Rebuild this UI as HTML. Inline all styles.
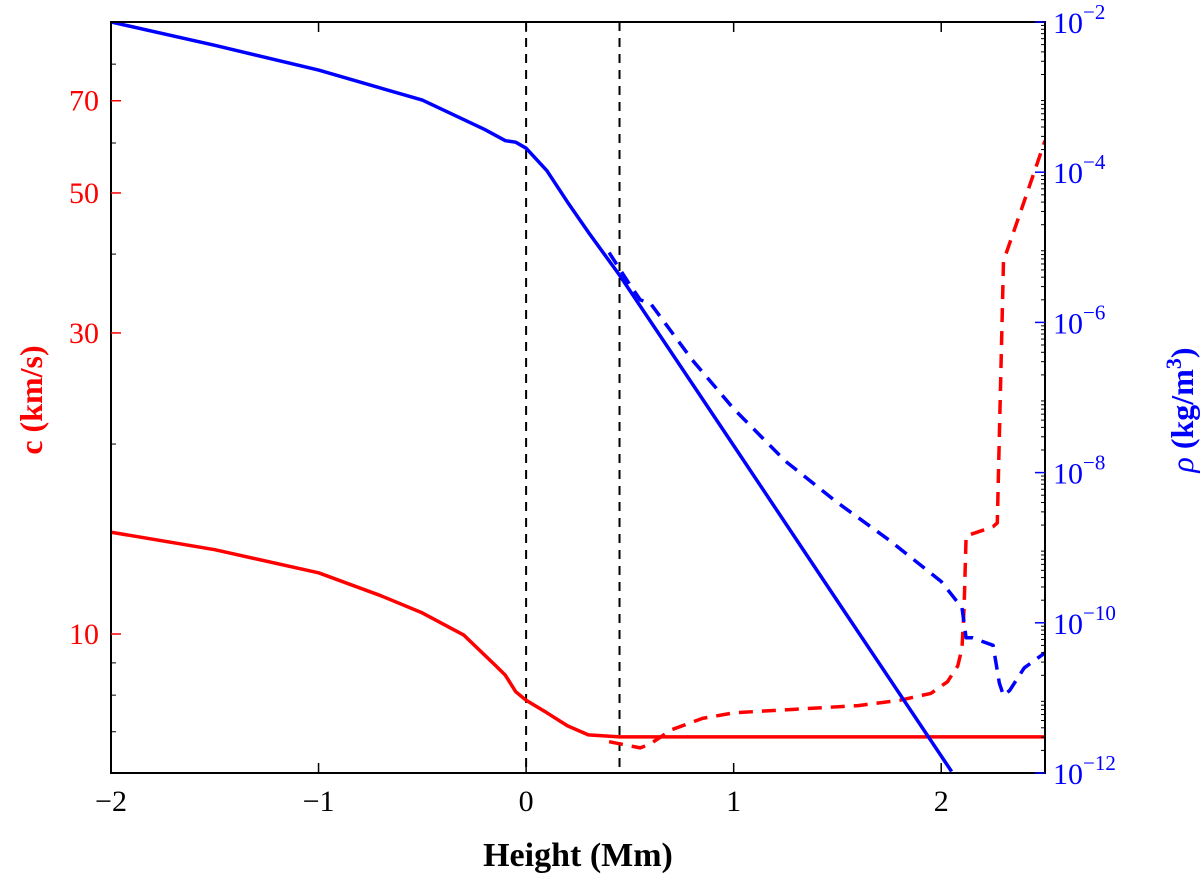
<!DOCTYPE html>
<html><head><meta charset="utf-8"><style>
body{margin:0;background:#fff;}
svg text{font-family:"Liberation Serif",serif;}
</style></head><body>
<svg id="chart" width="1200" height="880" xmlns="http://www.w3.org/2000/svg">
<g id="plot"></g>
</svg>
<script>
const heightsRedSolid=[-2,-1.5,-1,-0.7,-0.5,-0.3,-0.15,-0.1,-0.05,0,0.1,0.2,0.3,0.45,1,1.5,2,2.5];
const cRedSolid=[14.5,13.6,12.5,11.5,10.8,9.96,8.93,8.6,8.1,7.85,7.5,7.15,6.92,6.87,6.87,6.87,6.87,6.87];
const heightsRedDashed=[0.4,0.5,0.55,0.6,0.7,0.85,1.0,1.3,1.6,1.8,1.95,2.03,2.08,2.1,2.11,2.12,2.2,2.25,2.27,2.3,2.4,2.5];
const cRedDashed=[6.75,6.65,6.6,6.7,7.05,7.35,7.5,7.6,7.7,7.85,8.05,8.4,8.9,9.5,11.0,14.3,14.6,14.8,15.0,39,48.5,60.5];
const heightsBlueSolid=[-2,-1.5,-1,-0.5,-0.2,-0.1,-0.05,0,0.1,0.2,0.3,0.45,1,1.5,2.05];
const rhoLogBlueSolid=[-2,-2.31,-2.64,-3.04,-3.43,-3.58,-3.6,-3.68,-3.98,-4.4,-4.8,-5.37,-7.64,-9.71,-11.98];
const heightsBlueDashed=[0.4,0.5,0.55,0.6,0.8,1.0,1.25,1.5,1.75,2.0,2.1,2.12,2.15,2.25,2.28,2.3,2.33,2.4,2.5];
const rhoLogBlueDashed=[-5.07,-5.5,-5.7,-5.75,-6.5,-7.15,-7.85,-8.4,-8.9,-9.45,-9.8,-10.2,-10.2,-10.3,-10.8,-10.97,-10.9,-10.6,-10.4];
const xTicks=[-2,-1,0,1,2];
const cTicks=[10,30,50,70];
const cMinor=[7,8,9,20,40,60,80];
const rhoTicks=[-2,-4,-6,-8,-10,-12];
const vlines=[0,0.45];

const L=111,R=1045,T=22,B=773;
const X=v=>L+(v+2)/4.5*(R-L);
const YC=c=>634-(Math.log10(c)-1)*631;
const YR=p=>T+(-2-p)/10*(B-T);
const ns="http://www.w3.org/2000/svg";
const g=document.getElementById('plot');
function mk(t,a){const e=document.createElementNS(ns,t);for(const k in a)e.setAttribute(k,a[k]);g.appendChild(e);return e;}
function path(xs,ys,fx,fy,col,dash,name){
  const d=xs.map((x,i)=>(i?'L':'M')+fx(x).toFixed(1)+','+fy(ys[i]).toFixed(1)).join('');
  const p=mk('path',{d:d,fill:'none',stroke:col,'stroke-width':3.5,'stroke-linejoin':'round','clip-path':'url(#clip)'});
  if(dash)p.setAttribute('stroke-dasharray','14,9');
  
  
}
const defs=mk('defs',{});
defs.innerHTML='<clipPath id="clip"><rect x="111" y="22" width="934" height="751"/></clipPath>';
vlines.forEach(v=>{const l=mk('line',{x1:X(v),x2:X(v),y1:T,y2:B,stroke:'#000','stroke-width':2,'stroke-dasharray':'9,7'});

});
path(heightsRedSolid,cRedSolid,X,YC,'#f00',false,'sound-speed-solid');
path(heightsRedDashed,cRedDashed,X,YC,'#f00',true,'sound-speed-dashed');
path(heightsBlueSolid,rhoLogBlueSolid,X,YR,'#00f',false,'density-solid');
path(heightsBlueDashed,rhoLogBlueDashed,X,YR,'#00f',true,'density-dashed');
const fr=mk('rect',{x:L,y:T,width:R-L,height:B-T,fill:'none',stroke:'#000','stroke-width':2});


xTicks.forEach(v=>{const x=X(v);
 mk('line',{x1:x,x2:x,y1:B,y2:B-10,stroke:'#000','stroke-width':1.5});
 mk('line',{x1:x,x2:x,y1:T,y2:T+10,stroke:'#000','stroke-width':1.5});
 const t=mk('text',{x:x,y:B+38,'text-anchor':'middle','font-size':30});t.textContent=(v<0?'\u2212':'')+Math.abs(v);
 
 });
cTicks.forEach(c=>{const y=YC(c);
 mk('line',{x1:L,x2:L+10,y1:y,y2:y,stroke:'#f00','stroke-width':1.5});
 const t=mk('text',{x:L-12,y:y+10,'text-anchor':'end','font-size':30,fill:'#f00'});t.textContent=c;
 
 });
cMinor.forEach(c=>{const y=YC(c);mk('line',{x1:L,x2:L+5,y1:y,y2:y,stroke:'#000','stroke-width':1});});
for(let d=-12;d<-2;d++){for(let m=2;m<10;m++){const y=YR(d+Math.log10(m));mk('line',{x1:R,x2:R-4,y1:y,y2:y,stroke:'#000','stroke-width':1});}}
rhoTicks.forEach(p=>{const y=YR(p);
 mk('line',{x1:R,x2:R-10,y1:y,y2:y,stroke:'#00f','stroke-width':1.5});
 const t=mk('text',{x:R+8,y:y+11,'font-size':30,fill:'#00f'});
 t.innerHTML='10<tspan dy="-14" font-size="21">\u2212'+Math.abs(p)+'</tspan>';
 
 });
let t=mk('text',{x:578,y:866,'text-anchor':'middle','font-size':34,'font-weight':'bold'});t.textContent='Height (Mm)';

t=mk('text',{x:0,y:0,'text-anchor':'middle','font-size':32,'font-weight':'bold',fill:'#f00',transform:'translate(42,400) rotate(-90)'});t.textContent='c (km/s)';

t=mk('text',{x:0,y:0,'text-anchor':'middle','font-size':32,'font-weight':'bold',fill:'#00f',transform:'translate(1193,410) rotate(-90)'});
t.innerHTML='<tspan font-style="italic" font-weight="normal">ρ</tspan> (kg/m<tspan dy="-12" font-size="22">3</tspan><tspan dy="12">)</tspan>';

</script>
</body></html>
